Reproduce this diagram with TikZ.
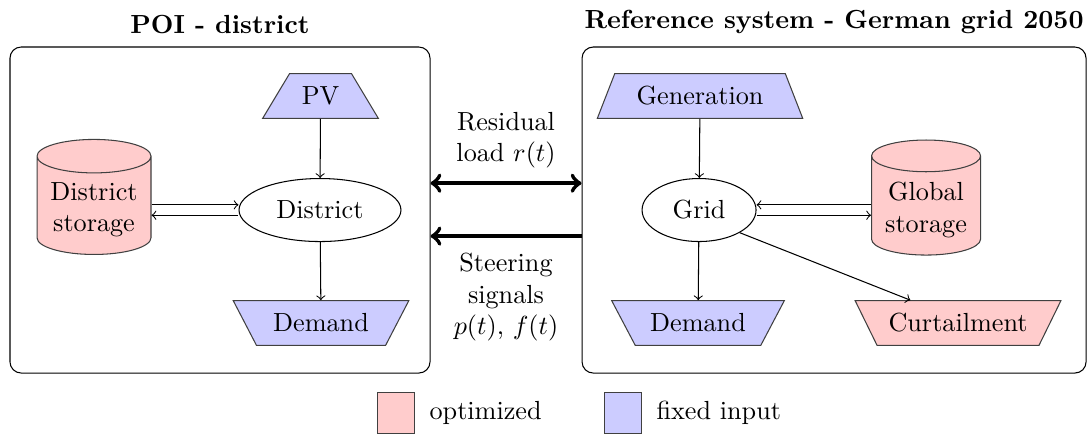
\documentclass[tikz,border=0pt]{standalone}
\usepackage{amsmath}
\usepackage{tikz}
\usetikzlibrary{shapes.geometric}
\usetikzlibrary{positioning}

\begin{document}
\begin{tikzpicture}
    [
    frame/.style={draw,rounded corners=1.5mm,minimum height=4.376cm},
    title/.style={font=\bfseries},
    series/.style={trapezium,draw=black!75,fill=blue!20,trapezium stretches=true,
        minimum height=0.6cm,inner xsep=2pt},
    sink/.style={series,shape border rotate=180},
    store/.style={cylinder,draw=black!75,fill=red!20,shape border rotate=90,aspect=0.32,
        minimum width=1.53cm,minimum height=1.544cm,align=center},
    hub/.style={ellipse,draw,minimum height=0.846cm},
    flow/.style={line width=1.6pt},
    key/.style={rectangle,draw=black!75,minimum width=0.5cm,minimum height=0.54cm},
    ]
    \useasboundingbox (0,0) rectangle (14.617,5.839);

    % the two systems
    \node (poi) at (2.953,3.020) [frame, minimum width=5.638cm,
        label={[title,label distance=0.5mm]above:POI - district}] {};
    \node (ref) at (11.195,3.020) [frame, minimum width=6.765cm,
        label={[title,label distance=0.5mm]above:Reference system - German grid 2050}] {};

    % district side
    \node (pv) at (4.302,4.550) [series, trapezium angle=60, minimum width=1.557cm] {PV};
    \node (district) at (4.295,3.020) [hub, minimum width=2.174cm] {District};
    \node (dstore) at (1.262,3.02) [store] {District\\storage};
    \node (ddemand) at (4.309,1.503) [sink, trapezium angle=62, minimum width=2.362cm] {Demand};
    \coordinate (din) at ([yshift=0.7mm]district.west);
    \coordinate (dout) at ([yshift=-0.7mm]district.west);
    \draw [->] (pv) to (district);
    \draw [->] (district) to (ddemand);
    \draw [->] (dstore.east |- din) to (din);
    \draw [<-] (dstore.east |- dout) to (dout);

    % grid side
    \node (gen) at (9.396,4.550) [series, trapezium angle=69, minimum width=2.765cm] {Generation};
    \node (grid) at (9.383,3.020) [hub, minimum width=1.530cm] {Grid};
    \node (gstore) at (12.430,3.02) [store, minimum width=1.463cm] {Global\\storage};
    \node (gdemand) at (9.369,1.503) [sink, trapezium angle=61, minimum width=2.322cm] {Demand};
    \node (curt) at (12.859,1.503) [sink, fill=red!20, trapezium angle=61, minimum width=2.778cm] {Curtailment};
    \coordinate (gin) at ([yshift=0.7mm]grid.east);
    \coordinate (gout) at ([yshift=-0.7mm]grid.east);
    \draw [->] (gen) to (grid);
    \draw [->] (grid) to (gdemand);
    \draw [<-] (gin) to (gstore.west |- gin);
    \draw [->] (gout) to (gstore.west |- gout);
    \draw [->] (grid.south east) to ([xshift=-6.4mm]curt.north);

    % exchange between the systems
    \draw [flow, <->] ([yshift=3.6mm]poi.east) to ([yshift=3.6mm]ref.west);
    \draw [flow, <-] ([yshift=-3.5mm]poi.east) to ([yshift=-3.5mm]ref.west);
    \node (residual) at (6.792,3.96) [align=center] {Residual\\load $r(t)$};
    \node (steering) at (6.792,1.85) [align=center] {Steering\\signals\\$p(t)$, $f(t)$};

    % legend
    \node (kopt) at (5.315,0.295) [key, fill=red!20, label={[label distance=0.7mm]right:optimized}] {};
    \node (kfix) at (8.362,0.295) [key, fill=blue!20, label={[label distance=0.7mm]right:fixed input}] {};
\end{tikzpicture}
\end{document}
